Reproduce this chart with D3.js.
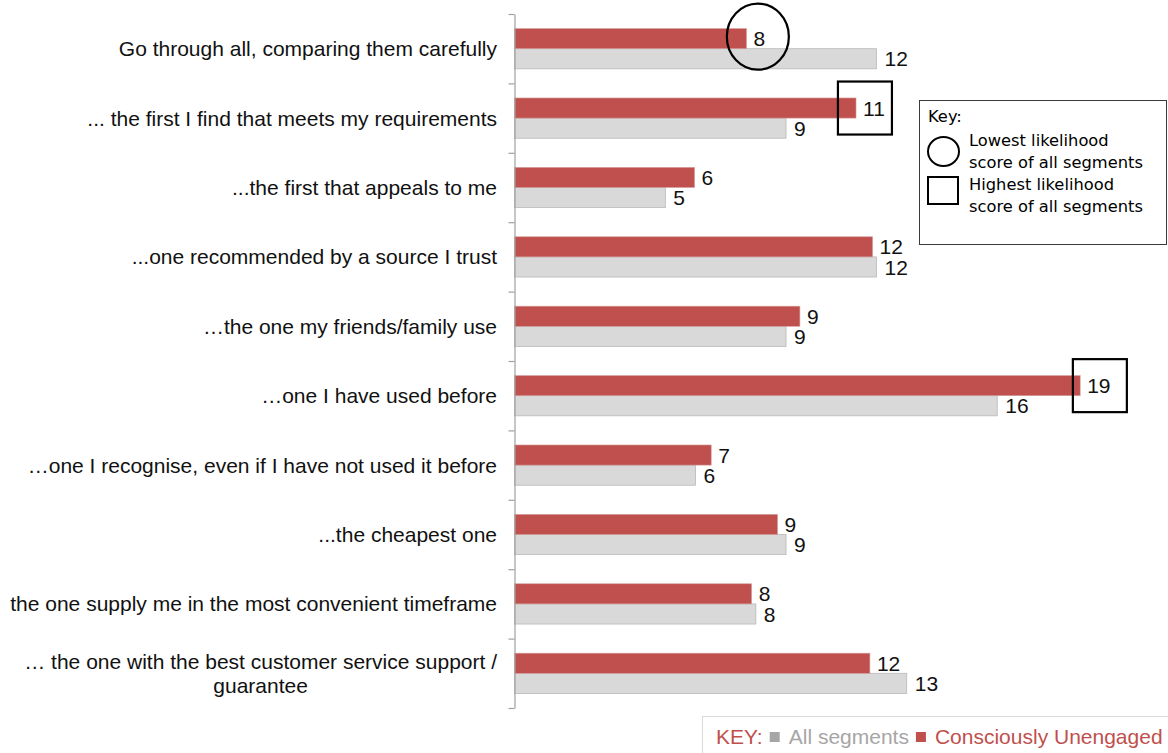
<!DOCTYPE html>
<html>
<head>
<meta charset="utf-8">
<script src="https://cdn.jsdelivr.net/npm/d3@7/dist/d3.min.js"></script>
<style>
  html, body { margin: 0; padding: 0; background: #fff; }
  svg { display: block; }
</style>
</head>
<body>
<svg id="chart" width="1168" height="753"></svg>
<script>
// Answer options, top to bottom
const categories = [
  "Go through all, comparing them carefully",
  "... the first I find that meets my requirements",
  "...the first that appeals to me",
  "...one recommended by a source I trust",
  "\u2026the one my friends/family use",
  "\u2026one I have used before",
  "\u2026one I recognise, even if I have not used it before",
  "...the cheapest one",
  "the one supply me in the most convenient timeframe",
  "\u2026 the one with the best customer service support / guarantee"
];

// Likelihood scores per option
const unengagedValues = [7.69, 11.32, 5.97, 11.87, 9.46, 18.75, 6.52, 8.72, 7.86, 11.78];
const allSegmentsValues = [12, 9, 5, 12, 9, 16, 6, 9, 8, 13];

// Series names, used in the bottom key
const seriesNames = ["All segments", "Consciously Unengaged"];

// Highlighted scores for the Consciously Unengaged segment
const lowestRows = [0];
const highestRows = [1, 5];

// Key text for the highlight shapes
const keyTitle = "Key:";
const keyLowest = ["Lowest likelihood", "score of all segments"];
const keyHighest = ["Highest likelihood", "score of all segments"];

const RED = "#c0504d";
const GREY = "#d9d9d9";
const GREY_EDGE = "#b8b8b8";
const KEY_GREY = "#a6a6a6";
const FONT = "'Liberation Sans', Arial, sans-serif";
const KEY_FONT = "'DejaVu Sans', Verdana, sans-serif";
const LABEL_SIZE = "21px";

const svg = d3.select("#chart");
svg.append("rect").attr("width", 1168).attr("height", 753).attr("fill", "#fff");

const axisX = 514.5;
const plotTop = 14, plotBottom = 708;

const y = d3.scaleBand()
  .domain(categories)
  .range([plotTop, plotBottom])
  .paddingInner(0.42)
  .paddingOuter(0.21);

const sub = d3.scaleBand()
  .domain(["unengaged", "all"])
  .range([0, y.bandwidth()]);

const x = d3.scaleLinear().domain([0, 20]).range([axisX, axisX + 20 * 30.17]);

const rows = categories.map((c, i) => ({
  cat: c, i,
  unengaged: unengagedValues[i],
  all: allSegmentsValues[i]
}));

// Bars
const g = svg.append("g");
g.selectAll("rect.all").data(rows).join("rect")
  .attr("class", "all")
  .attr("x", x(0))
  .attr("y", d => y(d.cat) + sub("all"))
  .attr("width", d => x(d.all) - x(0))
  .attr("height", sub.bandwidth())
  .attr("fill", GREY)
  .attr("stroke", GREY_EDGE)
  .attr("stroke-width", 0.8);

g.selectAll("rect.unengaged").data(rows).join("rect")
  .attr("class", "unengaged")
  .attr("x", x(0))
  .attr("y", d => y(d.cat) + sub("unengaged"))
  .attr("width", d => x(d.unengaged) - x(0))
  .attr("height", sub.bandwidth())
  .attr("fill", RED)
  .attr("stroke", "#d4a09e")
  .attr("stroke-width", 0.6);

// Value labels
const fmt = v => d3.format(".0f")(v);
g.selectAll("text.vall").data(rows).join("text")
  .attr("class", "vall")
  .attr("x", d => x(d.all) + 8)
  .attr("y", d => y(d.cat) + sub("all") + sub.bandwidth() / 2)
  .attr("dy", "0.36em")
  .style("font-family", FONT).style("font-size", LABEL_SIZE).attr("fill", "#111")
  .text(d => fmt(d.all));

const labelsUn = g.selectAll("text.vun").data(rows).join("text")
  .attr("class", "vun")
  .attr("x", d => x(d.unengaged) + 7)
  .attr("y", d => y(d.cat) + sub("unengaged") + sub.bandwidth() / 2)
  .attr("dy", "0.36em")
  .style("font-family", FONT).style("font-size", LABEL_SIZE).attr("fill", "#111")
  .text(d => fmt(d.unengaged));

// Category axis: line with ticks at the band boundaries
const yEdges = d3.scaleLinear().domain([0, categories.length]).range([plotTop, plotBottom]);
const axisG = svg.append("g")
  .attr("transform", `translate(${axisX},0)`)
  .call(d3.axisLeft(yEdges).ticks(categories.length).tickSize(6).tickSizeOuter(0).tickFormat(""));
axisG.select(".domain").attr("stroke", "#a0a0a0").attr("stroke-width", 1.2);
axisG.selectAll(".tick line").attr("stroke", "#a0a0a0").attr("stroke-width", 1.2);

// Category labels, wrapped when too long
const maxLabelW = 495;
const lineH = 24;
const labelRight = 497;
rows.forEach(d => {
  const t = svg.append("text")
    .style("font-family", FONT).style("font-size", LABEL_SIZE).attr("fill", "#111");
  const words = d.cat.split(" ");
  const lines = [];
  let cur = [];
  const probe = t.append("tspan");
  words.forEach(w => {
    const trial = cur.concat([w]).join(" ");
    probe.text(trial);
    if (probe.node().getComputedTextLength() > maxLabelW && cur.length) {
      lines.push(cur.join(" "));
      cur = [w];
    } else {
      cur.push(w);
    }
  });
  lines.push(cur.join(" "));
  probe.remove();
  const widths = lines.map(l => {
    const p = t.append("tspan").text(l);
    const w = p.node().getComputedTextLength();
    p.remove();
    return w;
  });
  const blockW = d3.max(widths);
  const cy = y(d.cat) + y.bandwidth() / 2;
  const y0 = cy - (lines.length - 1) * lineH / 2;
  lines.forEach((l, k) => {
    t.append("tspan")
      .attr("x", lines.length > 1 ? labelRight - blockW / 2 : labelRight)
      .attr("y", y0 + k * lineH)
      .attr("dy", "0.36em")
      .attr("text-anchor", lines.length > 1 ? "middle" : "end")
      .text(l);
  });
});

// Highlight shapes drawn around the Consciously Unengaged labels
const squareNudge = { 1: -9, 5: 1 };
labelsUn.each(function(d) {
  const bb = this.getBBox();
  const cx = bb.x + bb.width / 2;
  const cy = y(d.cat) + sub("unengaged") + sub.bandwidth() / 2;
  if (lowestRows.includes(d.i)) {
    svg.append("ellipse")
      .attr("cx", cx - 1.5).attr("cy", cy - 2)
      .attr("rx", 31).attr("ry", 33)
      .attr("fill", "none").attr("stroke", "#000").attr("stroke-width", 2.2);
  }
  if (highestRows.includes(d.i)) {
    const c = cx + (squareNudge[d.i] || 0);
    svg.append("rect")
      .attr("x", c - 27).attr("y", cy - 26.5)
      .attr("width", 54).attr("height", 53)
      .attr("fill", "none").attr("stroke", "#000").attr("stroke-width", 2.2);
  }
});

// Key box for the highlight shapes
const KEY_SIZE = "16.3px";
const kb = svg.append("g");
kb.append("rect")
  .attr("x", 919.5).attr("y", 100.5).attr("width", 247).attr("height", 144)
  .attr("fill", "#fff").attr("stroke", "#3a3a3a").attr("stroke-width", 1);
kb.append("text").attr("x", 928).attr("y", 122)
  .style("font-family", KEY_FONT).style("font-size", KEY_SIZE).attr("fill", "#000")
  .text(keyTitle);
kb.append("ellipse").attr("cx", 943.5).attr("cy", 151.5).attr("rx", 15.5).attr("ry", 14.5)
  .attr("fill", "none").attr("stroke", "#000").attr("stroke-width", 2);
kb.append("rect").attr("x", 928).attr("y", 177).attr("width", 30).attr("height", 27)
  .attr("fill", "none").attr("stroke", "#000").attr("stroke-width", 2);
[[keyLowest, 146], [keyHighest, 190]].forEach(([ls, by]) => {
  ls.forEach((l, k) => {
    kb.append("text").attr("x", 969).attr("y", by + k * 22)
      .style("font-family", KEY_FONT).style("font-size", KEY_SIZE).attr("fill", "#000")
      .text(l);
  });
});

// Bottom series key
const lg = svg.append("g");
lg.append("rect")
  .attr("x", 702.5).attr("y", 716.5).attr("width", 480).attr("height", 45)
  .attr("fill", "#fff").attr("stroke", "#d9d9d9").attr("stroke-width", 1);
let lx = 716;
const lBase = 744;
function legendText(str, color) {
  const t = lg.append("text").attr("x", lx).attr("y", lBase)
    .style("font-family", FONT).style("font-size", "21px").attr("fill", color).text(str);
  lx += t.node().getComputedTextLength();
}
function legendSwatch(color) {
  lx += 7;
  lg.append("rect").attr("x", lx).attr("y", lBase - 12).attr("width", 10).attr("height", 10).attr("fill", color);
  lx += 10 + 9;
}
legendText("KEY:", RED);
legendSwatch(KEY_GREY);
legendText(seriesNames[0], KEY_GREY);
legendSwatch(RED);
legendText(seriesNames[1], RED);
</script>
</body>
</html>
